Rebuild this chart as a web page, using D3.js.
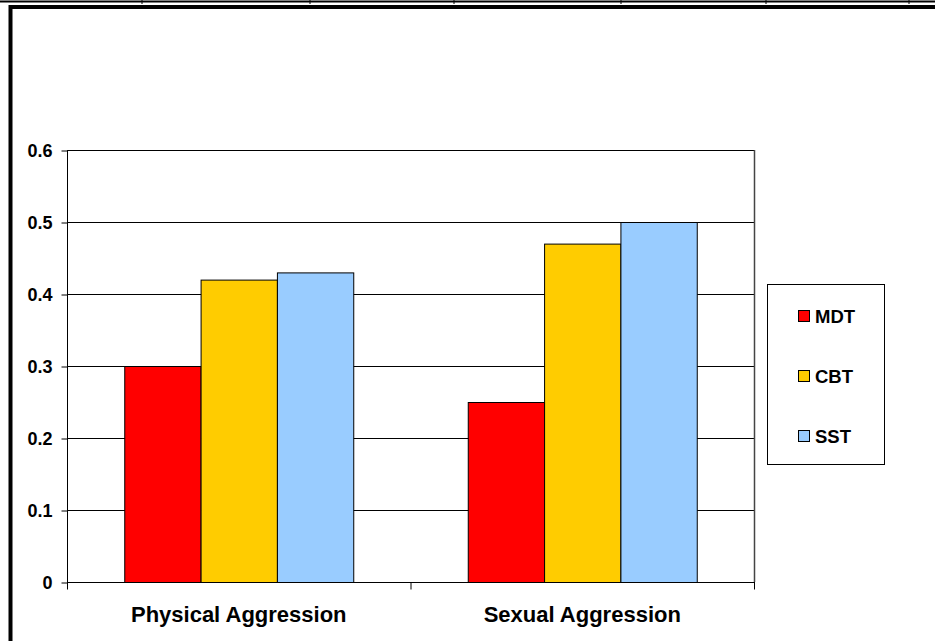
<!DOCTYPE html>
<html>
<head>
<meta charset="utf-8">
<script src="https://cdn.jsdelivr.net/npm/d3@7"></script>
<style>
  html, body { margin: 0; padding: 0; background: #fff; }
  svg { display: block; }
  text { font-family: "Liberation Sans", Arial, sans-serif; font-weight: bold; fill: #000; }
</style>
</head>
<body>
<script>
// Mean aggression reduction by treatment programme
const categories = ["Physical Aggression", "Sexual Aggression"];
const seriesNames = ["MDT", "CBT", "SST"];
const mdtValues = [0.30, 0.25];
const cbtValues = [0.42, 0.47];
const sstValues = [0.43, 0.50];
const yTicks = [0, 0.1, 0.2, 0.3, 0.4, 0.5, 0.6];
const seriesColors = ["#FF0000", "#FFCC00", "#99CCFF"];
const topRuleTicks = [142, 310, 454, 621, 766, 909];

const seriesValues = [mdtValues, cbtValues, sstValues];
const rows = categories.map((c, i) => ({
  category: c,
  values: seriesNames.map((s, j) => ({ series: s, value: seriesValues[j][i] }))
}));

const W = 935, H = 641;
const plot = { left: 67, right: 754, top: 150, bottom: 582 };

const svg = d3.select("body").append("svg").attr("width", W).attr("height", H);

// Rule across the top edge with small cell dividers
svg.append("line").attr("x1", 0).attr("x2", W).attr("y1", 1.5).attr("y2", 1.5)
  .attr("stroke", "#000").attr("stroke-width", 2);
svg.selectAll("line.divider").data(topRuleTicks).join("line")
  .attr("class", "divider")
  .attr("x1", d => d).attr("x2", d => d).attr("y1", 0).attr("y2", 4)
  .attr("stroke", "#000").attr("stroke-width", 1);

// Heavy chart frame
svg.append("path")
  .attr("d", `M${10.5},${H + 5} L${10.5},${7} L${W + 5},${7}`)
  .attr("fill", "none").attr("stroke", "#000").attr("stroke-width", 4);

const x0 = d3.scaleBand().domain(categories).range([plot.left, plot.right]).paddingInner(0).paddingOuter(0);
const groupPad = x0.bandwidth() / 6;
const x1 = d3.scaleBand().domain(seriesNames)
  .range([0, x0.bandwidth() - 2 * groupPad]).padding(0);
const y = d3.scaleLinear().domain([0, 0.6]).range([plot.bottom, plot.top]);
const color = d3.scaleOrdinal().domain(seriesNames).range(seriesColors);

// Horizontal gridlines
svg.append("g").selectAll("line").data(yTicks.filter(t => t > 0)).join("line")
  .attr("x1", plot.left).attr("x2", plot.right)
  .attr("y1", d => Math.round(y(d)) + 0.5).attr("y2", d => Math.round(y(d)) + 0.5)
  .attr("stroke", "#000").attr("stroke-width", 1);

// Right edge of the plot area
svg.append("line").attr("x1", plot.right + 0.5).attr("x2", plot.right + 0.5)
  .attr("y1", plot.top).attr("y2", plot.bottom)
  .attr("stroke", "#444").attr("stroke-width", 1.5);

// Bars
const groups = svg.append("g").selectAll("g").data(rows).join("g")
  .attr("transform", d => `translate(${x0(d.category) + groupPad},0)`);
groups.selectAll("rect").data(d => d.values).join("rect")
  .attr("x", d => x1(d.series) + 0.5)
  .attr("width", x1.bandwidth())
  .attr("y", d => y(d.value) + 0.5)
  .attr("height", d => y(0) - y(d.value))
  .attr("fill", d => color(d.series))
  .attr("stroke", "#000").attr("stroke-width", 1);

// Y axis
const yAxis = svg.append("g").attr("transform", `translate(${plot.left + 0.5},0.5)`)
  .call(d3.axisLeft(y).tickValues(yTicks).tickFormat(d => d === 0 ? "0" : d3.format(".1f")(d))
    .tickSize(6).tickPadding(9));
yAxis.select(".domain").attr("stroke", "#000").attr("d", `M0,${plot.top}V${plot.bottom}`);
yAxis.selectAll(".tick line").attr("stroke", "#000");
yAxis.selectAll("text").style("font-size", "18px").attr("font-family", null).attr("dy", "0.35em");

// X axis
const xAxis = svg.append("g").attr("transform", `translate(0,${plot.bottom + 0.5})`)
  .call(d3.axisBottom(x0).tickSize(0).tickPadding(24));
xAxis.select(".domain").attr("stroke", "#000").attr("d", `M${plot.left},0H${plot.right + 1}`);
xAxis.selectAll("text").style("font-size", "22px").attr("font-family", null);
// Category boundary tick marks
const boundaries = [plot.left, ...categories.slice(1).map(c => x0(c)), plot.right];
xAxis.selectAll("line.boundary").data(boundaries).join("line")
  .attr("class", "boundary")
  .attr("x1", d => d + 0.5).attr("x2", d => d + 0.5).attr("y1", 0).attr("y2", 7)
  .attr("stroke", "#000");

// Legend
const legend = svg.append("g");
legend.append("rect").attr("x", 767.5).attr("y", 284.5).attr("width", 117).attr("height", 180)
  .attr("fill", "#fff").attr("stroke", "#000").attr("stroke-width", 1);
const legendRow = d3.scalePoint().domain(seriesNames).range([316, 436]);
const items = legend.selectAll("g.item").data(seriesNames).join("g")
  .attr("class", "item")
  .attr("transform", d => `translate(798,${legendRow(d)})`);
items.append("rect").attr("x", 0.5).attr("y", -5.5).attr("width", 11).attr("height", 11)
  .attr("fill", d => color(d)).attr("stroke", "#000").attr("stroke-width", 1);
items.append("text").attr("x", 17).attr("dy", "0.36em").style("font-size", "18.5px").text(d => d);
</script>
</body>
</html>
